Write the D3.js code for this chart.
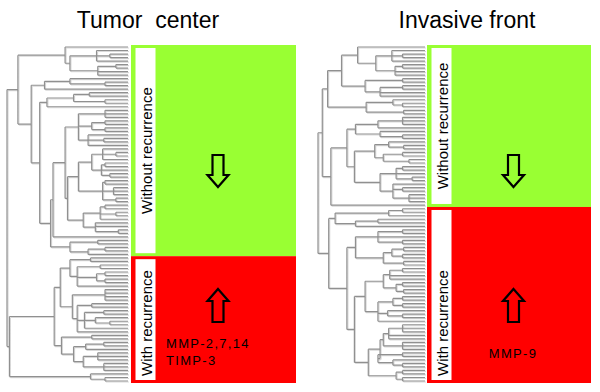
<!DOCTYPE html>
<html>
<head>
<meta charset="utf-8">
<script src="https://cdn.jsdelivr.net/npm/d3@7"></script>
<style>
  body { margin: 0; background: #fff; }
  text { font-family: "Liberation Sans", Arial, sans-serif; }
</style>
</head>
<body>
<svg width="600" height="392"></svg>
<script>
    // dendrograms: internal node = [merge height (root = 1), ...children], leaf = 0
    var leftTree = [1.00,
        [0.91,
            [0.52, 0, [0.48, [0.26, 0, [0.15, 0, 0], 0], [0.25, [0.10, 0, 0], 0, 0]]],
            [0.80,
                [0.69, [0.48, 0, [0.19, 0, 0]], 0],
                [0.73,
                    [0.67, [0.45, [0.32, 0, 0], [0.19, 0, 0]], 0],
                    [0.64,
                        [0.62,
                            [0.52,
                                [0.41, [0.19, 0, 0, 0], [0.30, [0.19, 0, 0], [0.19, 0, 0]], [0.33, 0, [0.20, 0, 0], 0]],
                                [0.50,
                                    [0.41,
                                        [0.30, [0.21, 0, [0.10, 0, 0], 0], [0.22, [0.19, 0, 0], 0, [0.15, 0, 0]]],
                                        [0.21, [0.19, 0, 0], [0.12, 0, 0, 0], [0.10, 0, 0]]],
                                    [0.37, [0.23, [0.19, 0, 0], [0.10, 0, 0], 0], [0.27, 0, 0, [0.08, 0, 0]]]]],
                            0],
                        [0.48, [0.25, 0, 0], [0.33, [0.19, 0, 0], 0]]]]]],
        [0.98,
            [0.61,
                [0.56,
                    [0.48, [0.31, 0, 0], [0.42, [0.23, 0, 0], [0.26, [0.19, 0, 0], [0.19, 0, 0]], 0]],
                    [0.46, [0.19, 0, 0, 0, 0], [0.42, [0.30, 0, 0], [0.36, [0.20, 0, 0], [0.27, 0, [0.15, 0, 0]], 0], 0]]],
                [0.55, [0.30, 0, 0], [0.45, [0.35, [0.20, 0, 0], 0], [0.37, [0.25, 0, 0, 0], [0.20, 0, 0, 0]]]]],
            [0.31, 0, [0.19, 0, 0]]]];

    var rightTree = [1.00,
        [0.96,
            [0.91,
                [0.78,
                    [0.63, 0, [0.46, [0.31, 0, [0.21, 0, 0], 0], [0.28, [0.21, 0, 0], 0, 0]]],
                    [0.56, [0.21, 0, 0], [0.42, [0.21, 0, 0], 0, 0]]],
                [0.55, [0.30, 0, [0.21, 0, 0]], [0.20, 0, 0]]],
            [0.88,
                [0.73,
                    [0.65, [0.44, [0.21, 0, 0, 0], 0], [0.42, 0, [0.21, 0, 0]]],
                    [0.66,
                        [0.47, [0.34, 0, [0.20, 0, 0]], [0.39, [0.21, 0, 0], [0.15, 0, 0]]],
                        [0.42, [0.27, [0.21, 0, 0], 0, [0.12, 0, 0]], [0.30, 0, [0.21, 0, 0], [0.15, 0, 0, 0]]]]],
                0]],
        [0.90,
            [0.84, [0.34, [0.21, 0, 0], 0], [0.65, [0.44, 0, 0], 0]],
            [0.73,
                [0.65, [0.44, [0.21, 0, 0], 0, [0.21, 0, 0]], [0.39, [0.31, [0.20, 0, 0], [0.21, 0, 0]], [0.20, 0, 0]]],
                [0.66,
                    [0.56, [0.39, [0.33, [0.21, 0, 0], 0, 0], [0.27, [0.21, 0, 0], [0.20, 0, 0]]],
                           [0.44, [0.30, [0.21, 0, 0], [0.21, 0, 0]], [0.35, 0, [0.21, 0, 0]], 0]],
                    [0.53, [0.42, [0.39, [0.34, [0.21, 0, 0, 0], 0, 0], [0.21, 0, 0, 0]], [0.44, [0.21, 0, 0], [0.30, 0, [0.21, 0, 0]]]],
                           [0.27, [0.21, 0, 0], [0.21, 0, 0]]]]]]];

    var titles = ["Tumor  center", "Invasive front"];
    var groupLabels = ["Without recurrence", "With recurrence"];
    var markers = [["MMP-2,7,14", "TIMP-3"], ["MMP-9"]];
    var greenLeaves = [60, 46];   // leaves in the "without recurrence" cluster

    var svg = d3.select("svg");

    var panels = [
        {tree: leftTree, rootX: 7, leafX: 128, blockX: 131, blockR: 296, titleX: 148,
         textX: 166, textAnchor: "start"},
        {tree: rightTree, rootX: 318, leafX: 425, blockX: 427, blockR: 591, titleX: 467,
         textX: 513, textAnchor: "middle"}
    ];

    panels.forEach(function(p, i) {
        var g = svg.append("g");

        var root = d3.hierarchy(p.tree, function(d) { return Array.isArray(d) ? d.slice(1) : null; });
        var leaves = root.leaves();

        var yScale = d3.scalePoint().domain(d3.range(leaves.length)).range([47, 381]),
            xScale = d3.scaleLinear().domain([0, 1]).range([p.leafX, p.rootX]);

        leaves.forEach(function(l, k) { l.y = yScale(k); });
        root.eachAfter(function(n) {
            n.h = n.children ? n.data[0] : 0;
            if (n.children) n.y = (n.children[0].y + n.children[n.children.length - 1].y) / 2;
        });

        var d = "";
        root.each(function(n) {
            if (!n.children) return;
            var xn = xScale(n.h);
            d += "M" + xn + "," + n.children[0].y + "V" + n.children[n.children.length - 1].y;
            n.children.forEach(function(c) {
                d += "M" + xn + "," + c.y + "H" + xScale(c.h);
            });
        });

        // soft shadow under the tree lines, like the scanned figure
        g.append("path").attr("d", d).attr("transform", "translate(1,1)")
            .attr("fill", "none").attr("stroke", "#d9d9d9").attr("stroke-width", 1.2);
        g.append("path").attr("d", d)
            .attr("fill", "none").attr("stroke", "#909090").attr("stroke-width", 1.2);

        // cluster blocks
        var top = yScale(0) - 2,
            bottom = yScale(leaves.length - 1) + 2,
            split = (yScale(greenLeaves[i] - 1) + yScale(greenLeaves[i])) / 2,
            w = p.blockR - p.blockX;

        var blocks = [
            {y0: top, y1: split, fill: "#99ff33", label: groupLabels[0]},
            {y0: split, y1: bottom, fill: "#ff0000", label: groupLabels[1]}
        ];

        blocks.forEach(function(b, j) {
            g.append("rect").attr("x", p.blockX).attr("y", b.y0)
                .attr("width", w).attr("height", b.y1 - b.y0).attr("fill", b.fill);
            g.append("rect").attr("x", p.blockX + 4.5).attr("y", b.y0 + 3)
                .attr("width", 20).attr("height", b.y1 - b.y0 - 6).attr("fill", "#fff");

            var cx = p.blockX + 15.5,
                ty = j === 0 ? (b.y0 + b.y1) / 2 : b.y1 - 7;
            g.append("text")
                .attr("transform", "translate(" + cx + "," + ty + ") rotate(-90)")
                .attr("text-anchor", j === 0 ? "middle" : "start")
                .attr("dy", "0.35em")
                .style("font-size", "15px")
                .text(b.label);
        });

        // hollow arrows: down in the green block, up in the red block
        var ax = (p.blockX + p.blockR) / 2 + 4.5;
        var arrow = function(yTip, yEnd) {
            var dir = yEnd > yTip ? 1 : -1,
                yHead = yTip + dir * 12;
            return d3.line()([
                [ax, yTip], [ax + 10.5, yHead], [ax + 5.5, yHead], [ax + 5.5, yEnd],
                [ax - 5.5, yEnd], [ax - 5.5, yHead], [ax - 10.5, yHead], [ax, yTip]
            ]) + "Z";
        };
        g.append("path").attr("d", arrow(187, 155))
            .attr("fill", "none").attr("stroke", "#000").attr("stroke-width", 2.2);
        g.append("path").attr("d", arrow(289, 322))
            .attr("fill", "none").attr("stroke", "#000").attr("stroke-width", 2.2);

        // marker genes
        var mt = g.append("text")
            .attr("x", p.textX)
            .attr("y", markers[i].length > 1 ? 348 : 358)
            .attr("text-anchor", p.textAnchor)
            .style("font-size", "13px")
            .style("letter-spacing", "1.3px");
        markers[i].forEach(function(s, k) {
            mt.append("tspan").attr("x", p.textX).attr("dy", k === 0 ? 0 : 17).text(s);
        });

        // panel title
        svg.append("text")
            .attr("x", p.titleX).attr("y", 28)
            .attr("text-anchor", "middle")
            .style("font-size", "23px")
            .style("white-space", "pre")
            .text(titles[i]);
    });
</script>
</body>
</html>
